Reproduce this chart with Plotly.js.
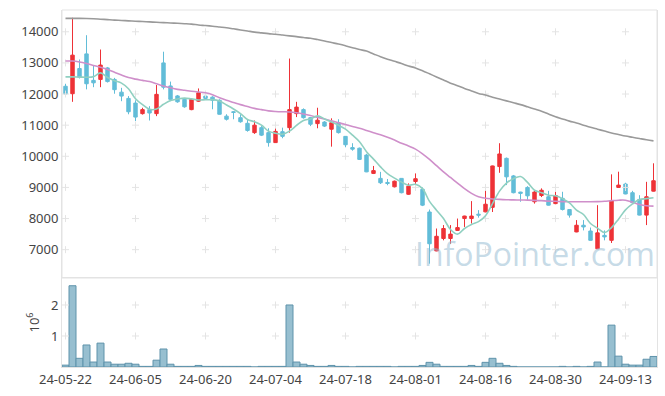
<!DOCTYPE html>
<html>
<head>
<meta charset="utf-8">
<script src="https://cdn.plot.ly/plotly-3.0.1.min.js"></script>
<style>html,body{margin:0;padding:0;background:#fff;}#chart{width:665px;height:396px;}</style>
</head>
<body>
<div id="chart"></div>
<script>
// ---- data ----
const dates = [
 "24-05-22","24-05-23","24-05-24","24-05-27","24-05-28","24-05-29","24-05-30","24-05-31",
 "24-06-03","24-06-04","24-06-05","24-06-07","24-06-10","24-06-11","24-06-12","24-06-13","24-06-14",
 "24-06-17","24-06-18","24-06-19","24-06-20","24-06-21","24-06-24","24-06-25","24-06-26","24-06-27","24-06-28",
 "24-07-01","24-07-02","24-07-03","24-07-04","24-07-05","24-07-08","24-07-09","24-07-10","24-07-11","24-07-12",
 "24-07-15","24-07-16","24-07-17","24-07-18","24-07-19","24-07-22","24-07-23","24-07-24","24-07-25","24-07-26",
 "24-07-29","24-07-30","24-07-31","24-08-01","24-08-02","24-08-05","24-08-06","24-08-07","24-08-08","24-08-09",
 "24-08-12","24-08-13","24-08-14","24-08-16","24-08-19","24-08-20","24-08-21","24-08-22","24-08-23",
 "24-08-26","24-08-27","24-08-28","24-08-29","24-08-30","24-09-02","24-09-03","24-09-04","24-09-05","24-09-06",
 "24-09-09","24-09-10","24-09-11","24-09-12","24-09-13","24-09-19","24-09-20","24-09-23","24-09-24"
];
const openP = [12250,12010,12820,13290,12440,12470,12840,12470,12060,11860,11710,11370,11500,11370,13000,12260,11940,11830,11500,11770,
 11935,11900,11800,11290,11430,11240,11060,10760,10920,10760,10440,10790,10920,11370,11500,11240,11050,11100,10870,11080,
 10640,10280,10260,10040,9450,9290,9160,9020,9290,8780,9190,8940,8210,6960,7360,7360,7620,8000,8000,8140,
 8215,8360,9670,9935,9370,8850,9000,8540,8740,8700,8480,8650,8290,7570,7785,7600,7030,7460,7300,9000,
 9110,8830,8615,8110,8880];
const highP = [12330,14450,13110,13890,12900,13430,12870,12520,12200,11935,11800,11560,11610,12290,13360,12400,11970,11860,11860,12180,
 12010,11930,11830,11350,11450,11350,11190,11150,10970,10900,10920,10920,13140,11750,11540,11260,11560,11130,11220,11190,
 10650,10420,10280,10080,9690,9500,9270,9220,9300,9130,9450,9000,8290,7680,7790,7790,8000,8090,8560,8270,
 9075,9700,10420,9960,9400,8860,9040,8910,8970,8890,8860,8860,8300,7950,7950,7710,8430,7620,9420,9505,
 9150,8890,8750,9180,9775];
const lowP = [11980,11750,12500,12150,12220,12220,12370,12010,11770,11350,11130,11340,11150,11290,12150,11770,11720,11560,11480,11750,
 11830,11510,11340,11150,11190,11080,10790,10720,10650,10310,10430,10580,10760,11260,11210,10970,10900,10940,10310,10730,
 10290,10180,9880,9490,9430,9110,9070,9000,8810,8760,9020,8400,6550,6950,7300,7190,7600,7730,7840,8030,
 8200,8210,9470,9075,8810,8540,8600,8480,8690,8420,8460,8260,8030,7560,7620,7290,7020,7300,7215,8990,
 8780,8480,8100,7790,8870];
const closeP = [12000,13250,12545,12330,12360,12930,12400,12140,11935,11430,11260,11500,11390,11990,12220,11830,11750,11590,11830,12040,
 11860,11800,11350,11190,11410,11110,10830,11000,10680,10440,10800,10640,11500,11580,11240,11030,11160,10970,11080,10760,
 10370,10230,9900,9500,9540,9150,9130,9200,8830,9040,9280,8430,7190,7430,7680,7500,7710,8080,8080,8110,
 8460,9690,10075,9340,8830,8810,8730,8850,8910,8430,8740,8290,8110,7785,7730,7300,7540,7410,8570,9075,
 8790,8510,8110,8700,9215];
// volume in millions of shares
const volume = [0.06,2.62,0.28,0.71,0.16,0.77,0.16,0.09,0.09,0.12,0.09,0.02,0.02,0.22,0.58,0.09,0.02,0.02,0.02,0.05,
 0.02,0.02,0.02,0.02,0.02,0.02,0.02,0,0.02,0.02,0.02,0.02,2.0,0.16,0.09,0.05,0.02,0.02,0.05,0.02,
 0.02,0,0.02,0.02,0.02,0.02,0.02,0,0.02,0.02,0.02,0.05,0.15,0.09,0.02,0.02,0.02,0.02,0.05,0.02,
 0.15,0.28,0.12,0.05,0.02,0,0,0,0,0,0,0.02,0,0.02,0,0.02,0.16,0,1.35,0.35,
 0.09,0.06,0.06,0.25,0.34];
const ma5 = [12550,12550,12545,12540,12560,12680,12530,12430,12350,12170,11850,11660,11510,11520,11670,11790,11840,11870,11845,11810,
 11815,11820,11775,11650,11520,11370,11180,11110,11000,10810,10740,10710,10810,10990,11150,11200,11300,11200,11100,11000,
 10870,10680,10470,10150,9910,9660,9440,9300,9170,9070,9100,8960,8550,8270,8000,7650,7500,7680,7810,7900,
 8090,8480,8880,9140,9280,9350,9160,8910,8830,8750,8730,8640,8500,8270,8130,7840,7690,7550,7710,7980,
 8280,8470,8610,8640,8670];
const ma20 = [13060,13060,13030,12980,12920,12860,12790,12700,12610,12530,12480,12440,12400,12330,12260,12200,12150,12120,12090,12065,
 12040,11980,11880,11800,11730,11660,11600,11540,11500,11460,11440,11430,11425,11400,11360,11310,11250,11200,11140,11080,
 11020,10960,10900,10830,10760,10690,10610,10520,10420,10330,10230,10080,9900,9700,9500,9320,9140,8960,8810,8700,
 8650,8630,8615,8605,8600,8595,8592,8585,8575,8560,8555,8545,8540,8538,8538,8540,8545,8555,8575,8590,
 8590,8520,8450,8410,8400];
const ma120 = [14430,14430,14430,14428,14420,14405,14390,14375,14365,14352,14340,14330,14318,14305,14295,14283,14272,14260,14245,14220,
 14200,14180,14155,14130,14095,14060,14025,13990,13965,13940,13920,13895,13870,13845,13815,13790,13750,13705,13655,13605,
 13550,13490,13430,13380,13290,13200,13120,13050,12980,12900,12840,12750,12650,12550,12450,12350,12270,12180,12100,12020,
 11970,11900,11840,11780,11720,11660,11590,11520,11450,11360,11270,11200,11130,11070,11000,10930,10870,10810,10750,10700,
 10650,10610,10570,10530,10495];
const priceTicks = [7000,8000,9000,10000,11000,12000,13000,14000];
const volTicks = [1,2];
const dateTickStep = 10;

// ---- derived helpers ----
const tickDates = dates.filter((d, i) => i % dateTickStep === 0);
const gridColor = '#e4e4e4';
const crossX = [], crossY = [];
tickDates.forEach(d => priceTicks.forEach(v => { crossX.push(d); crossY.push(v); }));
const crossX2 = [], crossY2 = [];
tickDates.forEach(d => volTicks.forEach(v => { crossX2.push(d); crossY2.push(v); }));

const traces = [
  {type:'bar', x:dates, y:volume, xaxis:'x', yaxis:'y2',
   marker:{color:'#97bfd0', line:{color:'#5f93ab', width:1}}, showlegend:false},
  {type:'scatter', mode:'markers', x:crossX, y:crossY, xaxis:'x', yaxis:'y',
   marker:{symbol:'cross-thin', size:5, line:{color:gridColor, width:1}}, hoverinfo:'skip', showlegend:false},
  {type:'scatter', mode:'markers', x:crossX2, y:crossY2, xaxis:'x', yaxis:'y2',
   marker:{symbol:'cross-thin', size:5, line:{color:gridColor, width:1}}, hoverinfo:'skip', showlegend:false},
  {type:'scatter', mode:'lines', x:dates, y:ma120, xaxis:'x', yaxis:'y',
   line:{color:'#9a9a9a', width:1.6, shape:'spline'}, showlegend:false, hoverinfo:'skip'},
  {type:'scatter', mode:'lines', x:dates, y:ma20, xaxis:'x', yaxis:'y',
   line:{color:'#cf8fca', width:1.6, shape:'spline'}, showlegend:false, hoverinfo:'skip'},
  {type:'scatter', mode:'lines', x:dates, y:ma5, xaxis:'x', yaxis:'y',
   line:{color:'#90d0c1', width:1.6, shape:'spline'}, showlegend:false, hoverinfo:'skip'},
  {type:'candlestick', x:dates, open:openP, high:highP, low:lowP, close:closeP, xaxis:'x', yaxis:'y',
   increasing:{line:{color:'#ee3237', width:1}, fillcolor:'#ee3237'},
   decreasing:{line:{color:'#62bdd8', width:1}, fillcolor:'#62bdd8'},
   whiskerwidth:0, showlegend:false}
];

const split = 0.2493;
const layout = {
  width:665, height:396,
  margin:{l:62, r:8, t:10, b:29},
  paper_bgcolor:'#ffffff', plot_bgcolor:'#ffffff',
  font:{family:'Noto Sans, Open Sans, sans-serif', size:13, color:'#444'},
  showlegend:false,
  bargap:0,
  xaxis:{type:'category', categoryorder:'array', categoryarray:dates, anchor:'y2', range:[-0.5, dates.length-0.5],
    tickvals:tickDates, ticktext:tickDates, ticks:'', showgrid:false, zeroline:false,
    showline:true, mirror:true, linecolor:'#e3e3e3', linewidth:1,
    rangeslider:{visible:false}, tickfont:{size:13, color:'#444'}},
  yaxis:{domain:[split,1], range:[6090,14700], tickvals:priceTicks, tickformat:'d',
    showgrid:false, zeroline:false, showline:true, mirror:true, linecolor:'#e3e3e3',
    ticks:'', tickfont:{size:13, color:'#444'}},
  yaxis2:{domain:[0,split], range:[0,2.87], tickvals:volTicks, showgrid:false, zeroline:false,
    showline:true, mirror:true, linecolor:'#e3e3e3', ticks:'',
    title:{text:'10<sup>6</sup>', font:{size:13, color:'#444'}, standoff:8},
    tickfont:{size:13, color:'#444'}},
  shapes:[{type:'rect', xref:'paper', yref:'paper', x0:0, x1:1, y0:split, y1:1,
    line:{color:'#e3e3e3', width:1}, layer:'below'}],
  annotations:[{text:'InfoPointer.com', xref:'paper', yref:'paper', x:0.795, y:0.318,
    showarrow:false, xanchor:'center', yanchor:'middle',
    font:{family:'Open Sans, Noto Sans, sans-serif', size:32, color:'rgba(150,188,210,0.55)'}}]
};

Plotly.newPlot('chart', traces, layout, {staticPlot:true, displayModeBar:false});
</script>
</body>
</html>
